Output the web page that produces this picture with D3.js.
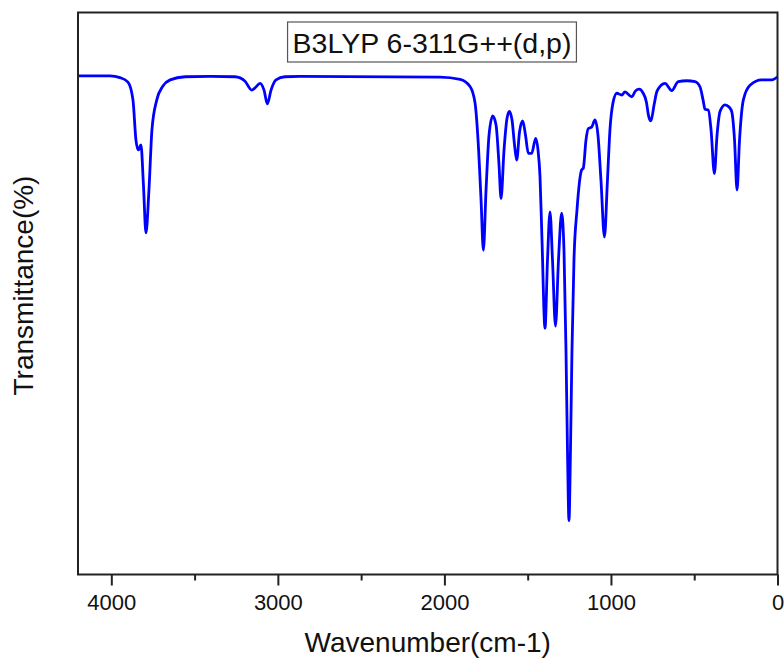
<!DOCTYPE html>
<html lang="en">
<head>
  <meta charset="UTF-8" />
  <title>IR Spectrum: B3LYP 6-311G++(d,p)</title>
  <script src="https://d3js.org/d3.v7.min.js"></script>
  <style>
    body { margin: 0; background: #fff; font-family: "Liberation Sans", Arial, sans-serif; }
    svg { display: block; }
  </style>
</head>
<body>

<svg width="784" height="663"></svg>

<script>
// wavenumber (cm-1)
const wavenumber = [
  4200, 4008, 3948, 3900, 3870, 3852, 3838, 3822, 3807, 3792, 3774, 3756, 3727, 3690, 3647,
  3557, 3407, 3257, 3197, 3157, 3137, 3107, 3083, 3063, 3041, 3011, 2957, 2867,
  2026, 1906, 1846, 1816, 1798, 1780, 1766, 1750, 1732, 1710, 1690, 1672, 1660, 1642, 1624,
  1610, 1594, 1579, 1566, 1549, 1530, 1513, 1496, 1476, 1452, 1438, 1426, 1414, 1396, 1381,
  1366, 1351, 1333, 1315, 1296, 1282, 1270, 1261, 1252, 1243, 1234, 1222, 1204, 1176, 1166,
  1150, 1136, 1116, 1096, 1078, 1060, 1039, 1021, 1006, 988, 965, 935, 916, 875, 853, 830,
  808, 787, 775, 760, 741, 723, 675, 635, 596, 545, 495, 465, 447, 435, 415, 399, 379, 363,
  345, 315, 291, 275, 258, 243, 228, 205, 165, 95, 55, 33, 0
];
// transmittance (arbitrary %)
const transmittance = [
  99.8, 99.8, 99.4, 98.4, 94.4, 85.4, 83.2, 84.3, 75.3, 64.6, 74.2, 87.7, 94.4, 97.5, 98.9,
  99.6, 99.7, 99.6, 98.6, 96.6, 97.1, 98.1, 96.6, 93.5, 96.6, 98.9, 99.6, 99.7,
  99.5, 99, 97.4, 93.7, 85.4, 72, 60.7, 74.2, 86.5, 90.8, 88.8, 79.8, 72.3, 83.2, 90.3,
  91.8, 89.9, 84.3, 80.9, 87.2, 89.7, 86.5, 82.4, 82.4, 85.8, 83.2, 77.2, 63, 43.2, 58.5,
  69.3, 58.5, 43.7, 58.5, 69, 60.7, 38.3, 15.9, 0.1, 15.9, 38.3, 58.5, 69.7, 78.7, 79.1,
  85.4, 88, 88.3, 89.9, 86.5, 76.4, 63.7, 76.4, 87.7, 93.7, 95.9, 95.5, 96.2, 95.1, 96.4, 96.8,
  96, 93.9, 91, 89.7, 93.3, 96.4, 98.1, 96.5, 98.5, 98.7, 98.5, 97.3, 94.4, 92.3, 92.1, 87.7, 77.9, 86.5,
  91.8, 93.3, 92.8, 91.8, 85.4, 74.2, 85.4, 94.4, 97.7, 98.9, 98.9, 98.9, 99.6
];
const majorTicks = [4000, 3000, 2000, 1000, 0];
const minorTicks = [3500, 2500, 1500, 500];
const title = "B3LYP 6-311G++(d,p)";

const svg = d3.select("svg"),
      margin = { top: 12.5, right: 6.5, bottom: 88.5, left: 78 },
      width = 784 - margin.left - margin.right,
      height = 663 - margin.top - margin.bottom,
      g = svg.append("g").attr("transform", `translate(${margin.left},${margin.top})`);

const x = d3.scaleLinear().domain([4200, 0]).range([0, width]);
const y = d3.scaleLinear().domain([-12, 114]).range([height, 0]);

const points = wavenumber.map((w, i) => ({ w, t: transmittance[i] }));

// spectrum
g.append("path")
  .datum(points)
  .attr("fill", "none")
  .attr("stroke", "#0000ff")
  .attr("stroke-width", 2.8)
  .attr("stroke-linejoin", "round")
  .attr("d", d3.line().x(d => x(d.w)).y(d => y(d.t)).curve(d3.curveMonotoneX));

// frame
g.append("rect")
  .attr("width", width)
  .attr("height", height)
  .attr("fill", "none")
  .attr("stroke", "#222")
  .attr("stroke-width", 2);

// x axis
const xAxis = g.append("g")
  .attr("transform", `translate(0,${height})`)
  .call(d3.axisBottom(x).tickValues(majorTicks).tickSize(11).tickPadding(9).tickFormat(d3.format("d")));
xAxis.select(".domain").remove();
xAxis.selectAll("line").attr("stroke", "#222").attr("stroke-width", 2);
xAxis.selectAll("text")
  .attr("fill", "#111")
  .style("font-family", "'Liberation Sans', Arial, sans-serif")
  .style("font-size", "22px");

const xMinor = g.append("g")
  .attr("transform", `translate(0,${height})`)
  .call(d3.axisBottom(x).tickValues(minorTicks).tickSize(6).tickFormat(""));
xMinor.select(".domain").remove();
xMinor.selectAll("line").attr("stroke", "#222").attr("stroke-width", 2);

// axis titles
g.append("text")
  .attr("x", width / 2)
  .attr("y", height + 77)
  .attr("text-anchor", "middle")
  .attr("fill", "#111")
  .style("font-size", "28px")
  .text("Wavenumber(cm-1)");

g.append("text")
  .attr("transform", "rotate(-90)")
  .attr("x", -height / 2 + 8)
  .attr("y", -45)
  .attr("text-anchor", "middle")
  .attr("fill", "#111")
  .style("font-size", "28px")
  .text("Transmittance(%)");

// title box
const tt = svg.append("text")
  .attr("x", 432)
  .attr("y", 43)
  .attr("text-anchor", "middle")
  .attr("dominant-baseline", "central")
  .attr("fill", "#111")
  .style("font-size", "28.5px")
  .text(title);
const bb = tt.node().getBBox();
svg.insert("rect", () => tt.node())
  .attr("x", bb.x - 5)
  .attr("y", 22)
  .attr("width", bb.width + 10)
  .attr("height", 40)
  .attr("fill", "#fff")
  .attr("stroke", "#555")
  .attr("stroke-width", 1.2);
</script>

</body>
</html>
